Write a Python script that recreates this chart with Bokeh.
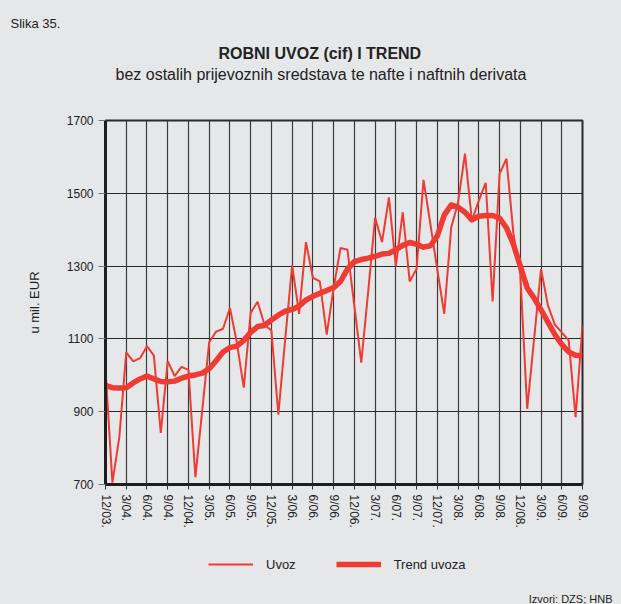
from bokeh.plotting import figure
from bokeh.layouts import column
from bokeh.models import Range1d, FixedTicker, Legend, LegendItem, Title, ColumnDataSource
from bokeh.embed import file_html
from bokeh.resources import INLINE

tick_labels = ["12/03.", "3/04.", "6/04.", "9/04.", "12/04.", "3/05.", "6/05.", "9/05.",
               "12/05.", "3/06.", "6/06.", "9/06.", "12/06.", "3/07.", "6/07.", "9/07.",
               "12/07.", "3/08.", "6/08.", "9/08.", "12/08.", "3/09.", "6/09.", "9/09."]

uvoz = [1015, 705, 830, 1063, 1038, 1047, 1080, 1054, 842, 1039, 998, 1023, 1015, 720,
        905, 1091, 1120, 1128, 1185, 1090, 966, 1172, 1202, 1139, 1123, 892, 1100, 1302,
        1169, 1366, 1268, 1258, 1112, 1240, 1350, 1345, 1190, 1035, 1230, 1433, 1366,
        1489, 1299, 1448, 1258, 1292, 1537, 1415, 1290, 1169, 1405, 1475, 1609, 1425,
        1480, 1529, 1203, 1553, 1595, 1390, 1279, 908, 1100, 1292, 1192, 1139, 1118,
        1096, 885, 1137]

trend = [972, 966, 965, 966, 979, 990, 998, 990, 983, 982, 984, 992, 998, 1001, 1006,
         1018, 1040, 1064, 1076, 1080, 1096, 1118, 1134, 1137, 1152, 1165, 1176, 1181,
         1190, 1207, 1217, 1225, 1233, 1241, 1258, 1292, 1312, 1318, 1322, 1327, 1333,
         1335, 1345, 1357, 1365, 1360, 1352, 1356, 1383, 1440, 1468, 1462, 1448, 1427,
         1437, 1439, 1439, 1432, 1405, 1360, 1300, 1240, 1212, 1180, 1146, 1112, 1085,
         1064, 1055, 1054]

months = list(range(len(uvoz)))
src = ColumnDataSource(dict(m=months, uvoz=uvoz, trend=trend))

BG = "#e6e7e9"
RED = "#ee3b33"
FONT = "Liberation Sans"
THIN, THICK = 2, 5.5

p = figure(width=621, height=540, output_backend="svg", toolbar_location=None,
           x_range=Range1d(0, len(uvoz) - 1), y_range=Range1d(700, 1700),
           min_border_left=105, min_border_right=39, min_border_top=120, min_border_bottom=56)
p.background_fill_color = BG
p.border_fill_color = BG
p.outline_line_color = "#2a2a2a"
p.outline_line_width = 2

r1 = p.line("m", "uvoz", source=src, color=RED, line_width=THIN)
r2 = p.line("m", "trend", source=src, color=RED, line_width=THICK, line_join="round")

# axes
xt = list(range(0, len(uvoz), 3))
p.xaxis.ticker = FixedTicker(ticks=xt)
p.xaxis.major_label_overrides = {t: lab for t, lab in zip(xt, tick_labels)}
p.xaxis.major_label_orientation = "vertical"
p.xaxis.major_label_text_font = FONT
p.xaxis.major_label_text_font_size = "12px"
p.xaxis.major_label_text_color = "#222"
p.xaxis.major_tick_out = 5
p.xaxis.major_tick_in = 0
p.xaxis.minor_tick_line_color = None
p.xaxis.axis_line_width = 3
p.xaxis.axis_line_color = "#1e1e1e"
p.xaxis.major_tick_line_color = "#333"
p.xaxis.major_label_standoff = 5

p.yaxis.ticker = FixedTicker(ticks=[700, 900, 1100, 1300, 1500, 1700])
p.yaxis.major_label_text_font = FONT
p.yaxis.major_label_text_font_size = "12px"
p.yaxis.major_label_text_color = "#222"
p.yaxis.major_tick_out = 7
p.yaxis.major_tick_in = 0
p.yaxis.minor_tick_line_color = None
p.yaxis.axis_line_width = 3
p.yaxis.axis_line_color = "#1e1e1e"
p.yaxis.major_tick_line_color = "#777"
p.yaxis.major_label_standoff = 5
p.yaxis.axis_label = "u mil. EUR"
p.yaxis.axis_label_text_font = FONT
p.yaxis.axis_label_text_font_size = "13px"
p.yaxis.axis_label_text_font_style = "normal"
p.yaxis.axis_label_text_color = "#222"
p.yaxis.axis_label_standoff = 22

p.xgrid.ticker = FixedTicker(ticks=xt)
p.xgrid.grid_line_color = "#3c3c3c"
p.xgrid.grid_line_width = 1.2
p.ygrid.grid_line_color = "#2a2a2a"
p.ygrid.grid_line_width = 1.2

# titles (first added sits closest to the plot)
spacer = Title(text=" ", text_font_size="1px", standoff=33)
p.add_layout(spacer, "above")
sub = Title(text="bez ostalih prijevoznih sredstava te nafte i naftnih derivata",
            align="left", offset=10, text_font=FONT, text_font_size="16px",
            text_font_style="normal", text_color="#222", standoff=4)
p.add_layout(sub, "above")
main = Title(text="ROBNI UVOZ (cif) I TREND", align="left", offset=113, text_font=FONT,
             text_font_size="16px", text_font_style="bold", text_color="#222", standoff=0)
p.add_layout(main, "above")
slika = Title(text="Slika 35.", align="left", offset=-95, text_font=FONT,
              text_font_size="13px", text_font_style="normal", text_color="#222", standoff=24)
p.add_layout(slika, "above")
p.title.visible = False

# legend strip under the chart (its frame is aligned with the chart's frame)
q = figure(width=621, height=64, output_backend="svg", toolbar_location=None,
           x_range=Range1d(0, 1), y_range=Range1d(0, 1),
           x_axis_type=None, y_axis_type=None,
           min_border_left=0, min_border_right=0, min_border_top=0, min_border_bottom=0)
q.background_fill_color = None
q.border_fill_color = BG
q.outline_line_color = None
q.xgrid.visible = False
q.ygrid.visible = False
# sample renderers kept outside the visible range; they only feed the legend glyphs
l1 = q.line(x=[-3, -2], y=[-3, -2], color=RED, line_width=THIN)
l2 = q.line(x=[-3, -2], y=[-3, -2], color=RED, line_width=THICK)
legend = Legend(items=[LegendItem(label="Uvoz", renderers=[l1]),
                       LegendItem(label="Trend uvoza", renderers=[l2])],
                orientation="horizontal", location=(93, 6),
                glyph_width=45, label_standoff=13, spacing=40,
                label_text_font=FONT, label_text_font_size="13px", label_text_color="#222",
                background_fill_alpha=0, border_line_alpha=0)
q.add_layout(legend)
srcnote = Title(text="Izvori: DZS; HNB", align="right", offset=-30, text_font=FONT,
                text_font_size="11px", text_font_style="normal", text_color="#222", standoff=0)
q.add_layout(srcnote, "below")

layout = column(p, q, spacing=0, styles={"background-color": BG})
open("out.html", "w").write(file_html(layout, INLINE))
